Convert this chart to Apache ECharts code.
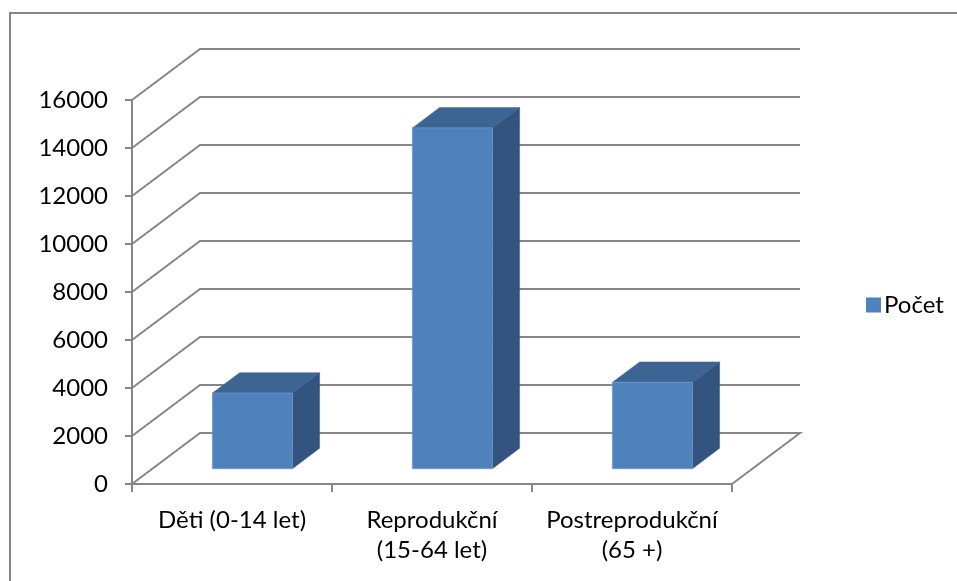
<!DOCTYPE html>
<html>
<head>
<meta charset="utf-8">
<script src="https://cdn.jsdelivr.net/npm/echarts@6/dist/echarts.min.js"></script>
<style>
  html, body { margin: 0; padding: 0; background: #fff; }
  #chart { width: 957px; height: 581px; }
</style>
</head>
<body>
<div id="chart"></div>
<script>
// kategorie a hodnoty
const categories = ["Děti (0-14 let)", "Reprodukční\n(15-64 let)", "Postreprodukční\n(65 +)"];
const seriesName = "Počet";
const pocet = [3150, 14200, 3600];
const yTicks = [0, 2000, 4000, 6000, 8000, 10000, 12000, 14000, 16000];

// 3D hloubka (px)
const depthX = 68;
const depthY = -51;
const barFront = 0.3;
const barBack = 0.7;

const gray = "#868686";
const font = "Lato, 'Noto Sans', sans-serif";

const myChart = echarts.init(document.getElementById("chart"), null, { renderer: "canvas" });

const options = {
  animation: false,
  backgroundColor: "#fff",
  graphic: [
    {
      type: "rect",
      shape: { x: 10, y: 13, width: 1000, height: 1000 },
      style: { fill: "none", stroke: gray, lineWidth: 2 },
      silent: true,
    },
  ],
  legend: {
    data: [seriesName],
    left: 861,
    top: 288,
    icon: "rect",
    itemWidth: 15,
    itemHeight: 15,
    itemGap: 6,
    textStyle: { fontFamily: font, fontSize: 24, color: "#000", padding: [0, 0, 0, -2] },
  },
  grid: {
    left: 132,
    top: 100,
    width: 600,
    height: 384,
    containLabel: false,
  },
  xAxis: {
    type: "category",
    data: categories,
    boundaryGap: true,
    axisLine: { show: true, lineStyle: { color: gray, width: 2 } },
    axisTick: { show: true, length: 8, lineStyle: { color: gray, width: 2 } },
    axisLabel: {
      margin: 21,
      fontFamily: font,
      fontSize: 24,
      lineHeight: 30,
      color: "#000",
      interval: 0,
    },
    splitLine: { show: false },
  },
  yAxis: {
    type: "value",
    min: 0,
    max: 16000,
    interval: 2000,
    axisLine: { show: true, lineStyle: { color: gray, width: 2 } },
    axisTick: { show: true, length: 7, lineStyle: { color: gray, width: 2 } },
    axisLabel: {
      margin: 24,
      fontFamily: font,
      fontSize: 24,
      color: "#000",
      formatter: (v) => String(v),
    },
    splitLine: { show: false },
  },
  series: [
    {
      // mřížka na zadní stěně + podlaha
      type: "custom",
      name: "grid3d",
      z: 1,
      silent: true,
      data: yTicks.map((v) => [0, v]),
      renderItem: function (params, api) {
        const cs = params.coordSys;
        const y = api.coord([0, api.value(1)])[1];
        const x0 = cs.x;
        const x1 = cs.x + cs.width;
        const pts = [
          [x0, y],
          [x0 + depthX, y + depthY],
          [x1 + depthX, y + depthY],
        ];
        if (api.value(1) === 0) pts.push([x1, y]);
        return {
          type: "polyline",
          shape: { points: pts },
          style: { stroke: gray, lineWidth: 2, fill: "none" },
        };
      },
    },
    {
      type: "custom",
      name: seriesName,
      z: 3,
      itemStyle: { color: "#4F81BD" },
      data: pocet.map((v, i) => [i, v]),
      renderItem: function (params, api) {
        const idx = api.value(0);
        const base = api.coord([idx, 0]);
        const top = api.coord([idx, api.value(1)]);
        const band = api.size([1, 0])[0];
        const w = band * 0.4;
        const ox = depthX * barFront;
        const oy = depthY * barFront;
        const dx = depthX * (barBack - barFront);
        const dy = depthY * (barBack - barFront);
        const l = base[0] - w / 2 + ox;
        const r = base[0] + w / 2 + ox;
        const t = top[1] + oy;
        const b = base[1] + oy;
        return {
          type: "group",
          children: [
            {
              type: "polygon",
              shape: { points: [[l, t], [r, t], [r + dx, t + dy], [l + dx, t + dy]] },
              style: { fill: "#3C6594", stroke: "#46709f", lineWidth: 0.5 },
            },
            {
              type: "polygon",
              shape: { points: [[r, t], [r + dx, t + dy], [r + dx, b + dy], [r, b]] },
              style: { fill: "#32547F", stroke: "#3a5f8c", lineWidth: 0.5 },
            },
            {
              type: "rect",
              shape: { x: l, y: t, width: r - l, height: b - t },
              style: { fill: "#4F81BD", stroke: "#6f98c9", lineWidth: 0.8 },
            },
          ],
        };
      },
    },
  ],
};

myChart.setOption(options);
</script>
</body>
</html>
